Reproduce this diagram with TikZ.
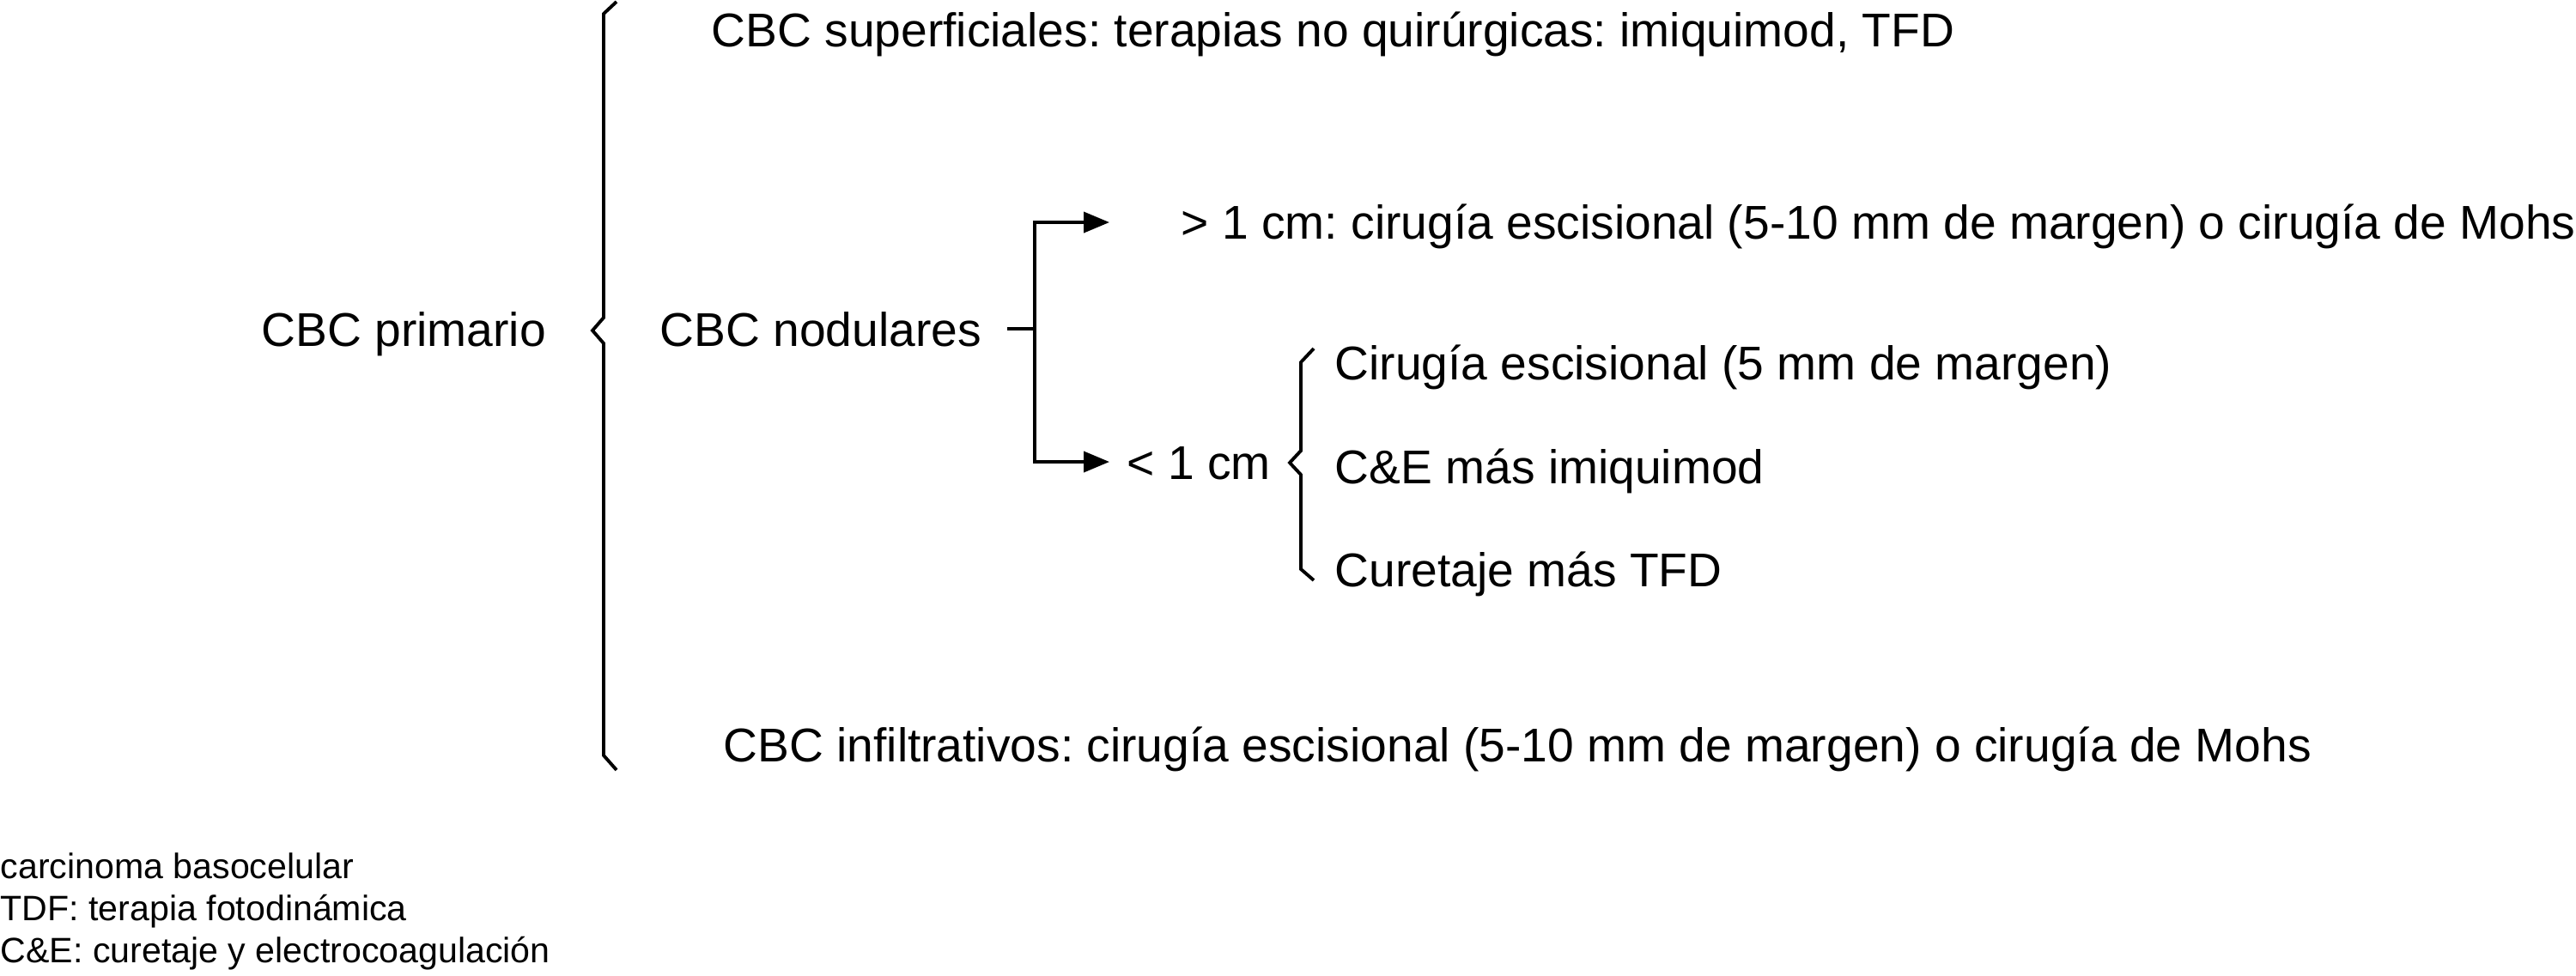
\documentclass[tikz,border=0pt]{standalone}
\usepackage{fontspec}
\setsansfont{Liberation Sans}
\usetikzlibrary{arrows.meta, calc}
\frenchspacing

\begin{document}
\begin{tikzpicture}[font=\sffamily,
    txt/.style={anchor=base west, inner sep=0pt, font=\sffamily\fontsize{15.7}{18}\selectfont},
    note/.style={anchor=base west, inner sep=0pt, font=\sffamily\fontsize{11.7}{14}\selectfont},
    brace/.style={line width=1.1pt, line join=miter},
    conn/.style={line width=1.1pt, -{Triangle[length=3mm, width=2.4mm]}}]

    % ==========================================
    % DEFINE PARAMETERS & COORDINATES
    % ==========================================

    % Fix the page to the size of the original figure
    \useasboundingbox (0,0) rectangle (30,-11.36);

    % Brace columns (x of the vertical stroke) and tick length
    \def\bigX{7.03}
    \def\smallX{15.15}
    \def\tick{0.15}

    % Fork after the nodular branch
    \coordinate (stub)  at (11.73,-3.83);
    \coordinate (fork)  at (12.05,-3.83);
    \coordinate (upend) at (12.92,-2.59);
    \coordinate (dnend) at (12.92,-5.38);

    % ==========================================
    % TEXT NODES
    % ==========================================

    \node[txt] (prim)  at (3.04,-4.03)  {CBC primario};
    \node[txt] (sup)   at (8.28,-0.54)  {CBC superficiales: terapias no quirúrgicas: imiquimod, TFD};
    \node[txt] (nod)   at (7.68,-4.03)  {CBC nodulares};
    \node[txt] (inf)   at (8.42,-8.87)  {CBC infiltrativos: cirugía escisional (5-10 mm de margen) o cirugía de Mohs};

    \node[txt] (big)   at (13.75,-2.78) {> 1 cm: cirugía escisional (5-10 mm de margen) o cirugía de Mohs};
    \node[txt] (small) at (13.12,-5.58) {< 1 cm};

    \node[txt] (esc)   at (15.54,-4.42) {Cirugía escisional (5 mm de margen)};
    \node[txt] (ce)    at (15.54,-5.63) {C\&E más imiquimod};
    \node[txt] (cur)   at (15.54,-6.83) {Curetaje más TFD};

    % Abbreviations at the bottom left
    \node[note] (ab1) at (0,-10.23) {carcinoma basocelular};
    \node[note] (ab2) at (0,-10.72) {TDF: terapia fotodinámica};
    \node[note] (ab3) at (0,-11.21) {C\&E: curetaje y electrocoagulación};

    % ==========================================
    % BRACES
    % ==========================================

    % Big brace from the primary tumour
    \draw[brace] (\bigX+\tick,-0.02) -- (\bigX,-0.16) -- (\bigX,-3.70)
        -- (\bigX-0.13,-3.85) -- (\bigX,-4.00) -- (\bigX,-8.80) -- (\bigX+\tick,-8.97);

    % Small brace for lesions under 1 cm
    \draw[brace] (\smallX+\tick,-4.06) -- (\smallX,-4.22) -- (\smallX,-5.25)
        -- (\smallX-0.13,-5.39) -- (\smallX,-5.53) -- (\smallX,-6.63) -- (\smallX+\tick,-6.76);

    % ==========================================
    % FORK & ARROWS
    % ==========================================

    \draw[line width=1.1pt] (stub) -- (fork);
    \draw[conn] (fork) |- (upend);
    \draw[conn] (fork) |- (dnend);

\end{tikzpicture}
\end{document}
